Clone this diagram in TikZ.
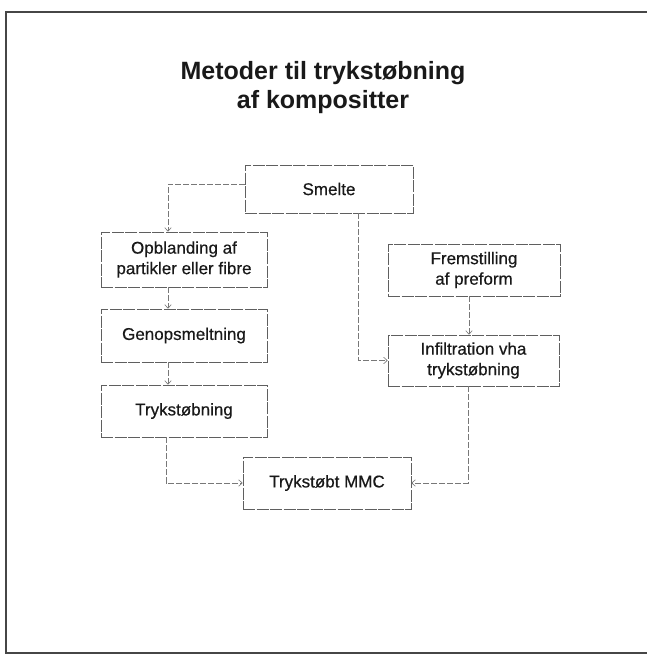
\documentclass[tikz,border=0pt]{standalone}
\usepackage{fontspec}
\setmainfont{Liberation Sans}
\newfontfamily\lblfont{Liberation Sans}[FakeBold=0.5]
\usepackage{tikz}
\usetikzlibrary{arrows.meta, positioning}
\definecolor{inkframe}{RGB}{70, 70, 70}
\definecolor{inkbox}{RGB}{95, 95, 95}
\definecolor{inkline}{RGB}{120, 120, 120}
\definecolor{inktext}{RGB}{25, 25, 25}
\tikzset{
    box/.style   ={draw=inkbox, line width=0.7pt, dash pattern=on 12pt off 1.5pt,
                   fill=white, align=center, text=inktext, inner sep=0pt,
                   font=\lblfont\fontsize{17}{20.5}\selectfont},
    ttl/.style   ={align=center, text=inktext,
                   font=\bfseries\fontsize{25}{29}\selectfont},
    con/.style   ={-{Straight Barb[length=3.5pt, width=6.5pt]}, line width=0.65pt,
                   draw=inkline, dash pattern=on 6pt off 2pt},
    frame/.style ={draw=inkframe, line width=1.8pt}
}

\begin{document}
\begin{tikzpicture}[x=1pt, y=-1pt]
  \useasboundingbox (0,0) rectangle (647,656);
  \draw[frame] (660,12) -- (6,12) -- (6,653) -- (660,653);

  \node[ttl] (title) at (323,88) {Metoder til trykstøbning\\af kompositter};

  % top
  \node[box, minimum width=168pt, minimum height=48pt] (smelte) at (329,189) {Smelte};

  % left column
  \node[box, minimum width=166pt, minimum height=55pt] (opbl) at (184,259.5)
       {Opblanding af\\partikler eller fibre};
  \node[box, minimum width=166pt, minimum height=53pt] (genop) at (184,335.5) {Genopsmeltning};
  \node[box, minimum width=166pt, minimum height=52pt] (tryk) at (184,411) {Trykstøbning};

  % right column
  \node[box, minimum width=172pt, minimum height=52pt] (frem) at (474,270)
       {Fremstilling\\af preform};
  \node[box, minimum width=171pt, minimum height=51pt] (infil) at (473.5,360.5)
       {Infiltration vha\\trykstøbning};

  % bottom
  \node[box, minimum width=168pt, minimum height=52pt] (mmc) at (327,483) {Trykstøbt MMC};

  \draw[con] ([yshift=5pt]smelte.west) -| ([xshift=-16pt]opbl.north);
  \draw[con] ([xshift=-16pt]opbl.south) -- ([xshift=-16pt]genop.north);
  \draw[con] ([xshift=-16pt]genop.south) -- ([xshift=-16pt]tryk.north);
  \draw[con] ([xshift=-18pt]tryk.south) |- (mmc.west);
  \draw[con] ([xshift=29pt]smelte.south) |- (infil.west);
  \draw[con] ([xshift=-5pt]frem.south) -- ([xshift=-4.5pt]infil.north);
  \draw[con] ([xshift=-5pt]infil.south) |- (mmc.east);
\end{tikzpicture}
\end{document}
